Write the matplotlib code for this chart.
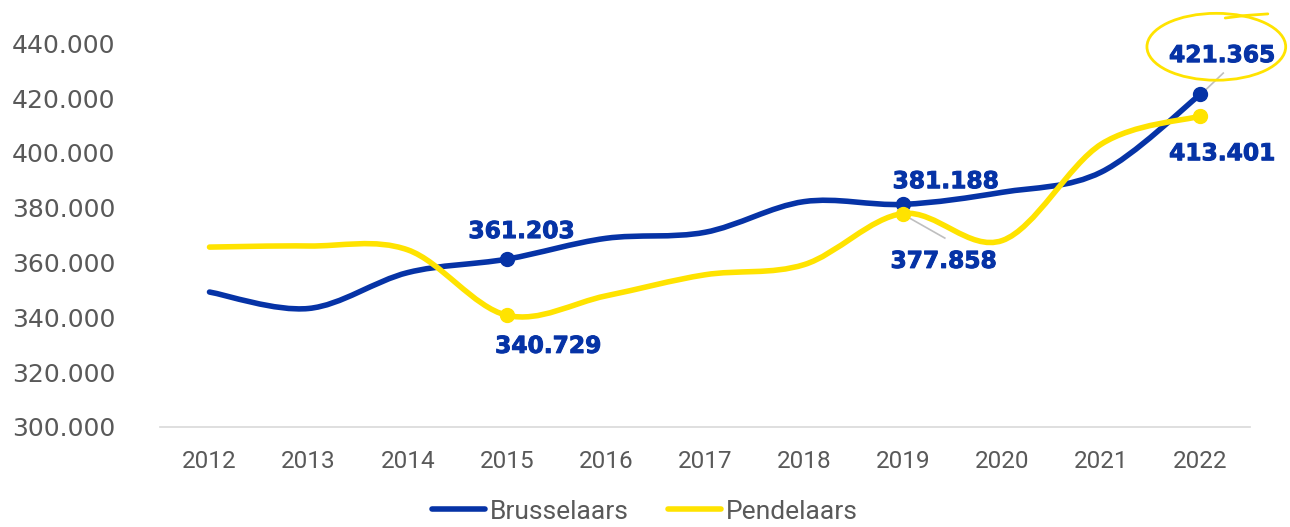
import matplotlib
matplotlib.use("Agg")
import matplotlib.pyplot as plt
import matplotlib.patheffects as pe
from matplotlib.path import Path
from matplotlib.patches import PathPatch, Ellipse

years = ["2012", "2013", "2014", "2015", "2016", "2017", "2018", "2019", "2020", "2021", "2022"]
brusselaars = [349.2, 343.2, 356.3, 361.203, 368.8, 371.0, 382.2, 381.188, 385.6, 393.0, 421.365]
pendelaars = [365.6, 366.0, 364.6, 340.729, 347.8, 355.5, 359.2, 377.858, 368.0, 403.2, 413.401]
labelled = [3, 7, 10]

BLUE = "#0633A6"
YELLOW = "#FFE300"
GREY = "#595959"

plt.rcParams["font.family"] = ["Roboto", "DejaVu Sans"]


def smooth_path(xs, ys):
    # Excel-style smoothed line: cubic bezier with catmull-rom control points
    verts = [(xs[0], ys[0])]
    codes = [Path.MOVETO]
    n = len(xs)
    for i in range(n - 1):
        p0 = (xs[max(i - 1, 0)], ys[max(i - 1, 0)])
        p1 = (xs[i], ys[i])
        p2 = (xs[i + 1], ys[i + 1])
        p3 = (xs[min(i + 2, n - 1)], ys[min(i + 2, n - 1)])
        c1 = (p1[0] + (p2[0] - p0[0]) / 6, p1[1] + (p2[1] - p0[1]) / 6)
        c2 = (p2[0] - (p3[0] - p1[0]) / 6, p2[1] - (p3[1] - p1[1]) / 6)
        verts += [c1, c2, p2]
        codes += [Path.CURVE4] * 3
    return Path(verts, codes)


fig = plt.figure(figsize=(12.9, 5.27), dpi=100)
ax = fig.add_axes([0.124, 0.19, 0.845, 0.728])

x = list(range(len(years)))
handles = []
for vals, col, name in [(brusselaars, BLUE, "Brusselaars"), (pendelaars, YELLOW, "Pendelaars")]:
    ax.add_patch(PathPatch(smooth_path(x, vals), fill=False, edgecolor=col, lw=4.0,
                           capstyle="round", zorder=3))
    h, = ax.plot([], [], color=col, lw=4.0, solid_capstyle="round", label=name)
    handles.append(h)
    ax.plot([x[i] for i in labelled], [vals[i] for i in labelled], "o", color=col,
            ms=10, zorder=4)

ax.set_xlim(-0.5, 10.5)
ax.set_ylim(300, 440)
ax.set_xticks(x)
ax.set_xticklabels(years)
ax.set_yticks(range(300, 441, 20))
ax.set_yticklabels([f"{v}.000" for v in range(300, 441, 20)])
ax.tick_params(axis="both", length=0, colors=GREY)
ax.tick_params(axis="x", pad=17, labelsize=17.5)
ax.tick_params(axis="y", pad=32)
for lab in ax.get_yticklabels():
    lab.set_fontfamily(["DejaVu Sans"])
    lab.set_fontsize(18)
for s in ["top", "right", "left"]:
    ax.spines[s].set_visible(False)
ax.spines["bottom"].set_color("#D9D9D9")
ax.spines["bottom"].set_linewidth(1.2)


def fmt(v):
    return f"{v:.3f}"


lab_kw = dict(color=BLUE, fontsize=16.8, fontweight="bold", family=["DejaVu Sans"],
              ha="center", va="baseline", zorder=5,
              path_effects=[pe.withStroke(linewidth=0.7, foreground=BLUE)])
ax.text(3.15, 368.9, fmt(brusselaars[3]), **lab_kw)
ax.text(3.42, 327.0, fmt(pendelaars[3]), **lab_kw)
ax.text(7.43, 387.1, fmt(brusselaars[7]), **lab_kw)
ax.text(7.41, 358.0, fmt(pendelaars[7]), **lab_kw)
ax.text(10.22, 433.1, fmt(brusselaars[10]), **lab_kw)
ax.text(10.22, 397.3, fmt(pendelaars[10]), **lab_kw)

# leader lines
ax.plot([10.05, 10.23], [422.9, 429.1], color="#BFBFBF", lw=1.2, zorder=2, clip_on=False)
ax.plot([7.01, 7.42], [377.3, 368.9], color="#BFBFBF", lw=1.2, zorder=2)

# hand-drawn highlight around the last value
ax.add_patch(Ellipse((10.16, 438.7), 1.40, 24.4, fill=False, edgecolor=YELLOW,
                     lw=2.0, clip_on=False, zorder=5))
ax.plot([10.25, 10.45, 10.68], [449.2, 450.1, 450.7], color=YELLOW, lw=2.0,
        clip_on=False, solid_capstyle="round")

leg = fig.legend(handles=handles, loc="center", bbox_to_anchor=(0.5, 0.029), ncol=2,
                 frameon=False, fontsize=19, handlelength=2.0, handletextpad=0.2,
                 columnspacing=1.5, borderaxespad=0, borderpad=0)
for t in leg.get_texts():
    t.set_color(GREY)

fig.savefig("out.png", dpi=100)
